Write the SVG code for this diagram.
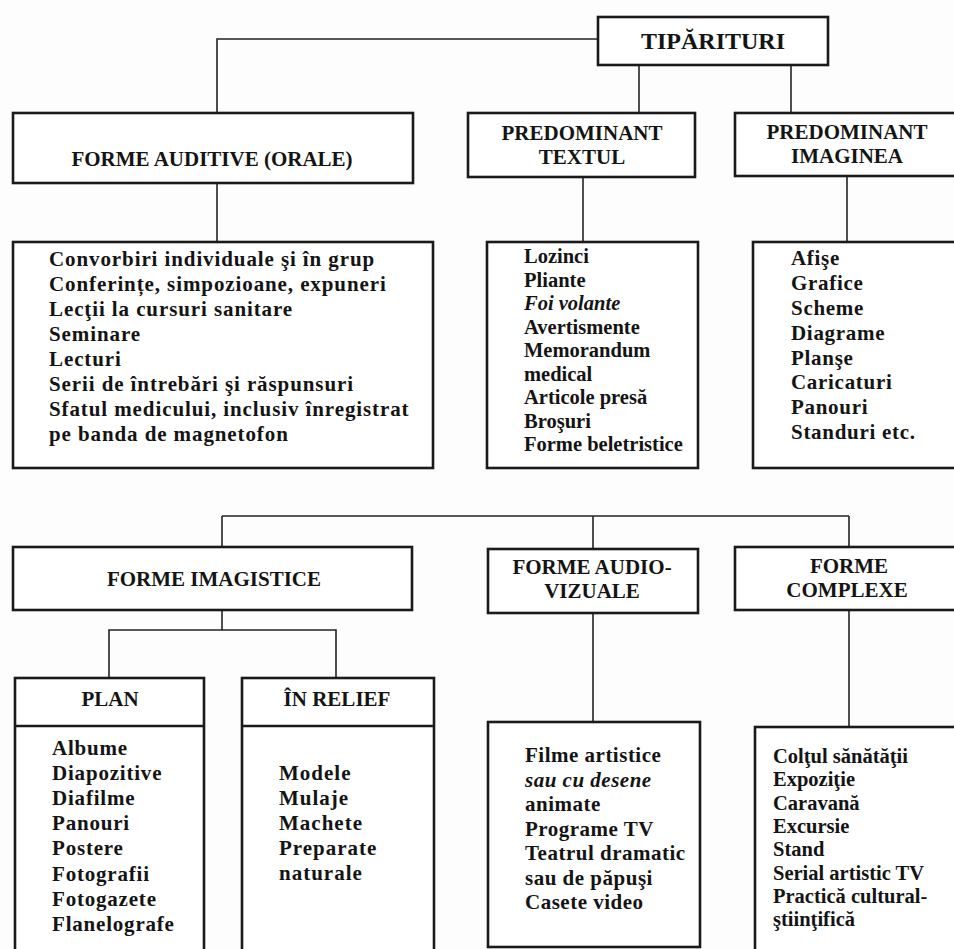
<svg xmlns="http://www.w3.org/2000/svg" width="954" height="949" viewBox="0 0 954 949">
<style>
  .bg{fill:#fdfdfd}
  .box{fill:#ffffff;stroke:#1a1a1a;stroke-width:2.6}
  .div{stroke:#1a1a1a;stroke-width:2.4;fill:none}
  .con{stroke:#222;stroke-width:1.6;fill:none}
  text{font-family:"Liberation Serif","Times New Roman",serif;font-weight:bold;fill:#141414}
  .hd{font-size:21px;text-anchor:middle}
  .top{font-size:24px;text-anchor:middle}
  .it{font-size:21px}
  .i{font-style:italic}
</style>
<rect class="bg" x="0" y="0" width="954" height="949"/>

<g id="connectors">
  <polyline class="con" points="598,39 217,39 217,113"/>
  <line class="con" x1="639" y1="65" x2="639" y2="113"/>
  <line class="con" x1="791" y1="65" x2="791" y2="113"/>
  <line class="con" x1="217" y1="183" x2="217" y2="242"/>
  <line class="con" x1="583" y1="177" x2="583" y2="242"/>
  <line class="con" x1="847" y1="176" x2="847" y2="242"/>
  <line class="con" x1="222" y1="516" x2="849" y2="516"/>
  <line class="con" x1="222" y1="516" x2="222" y2="547"/>
  <line class="con" x1="593" y1="516" x2="593" y2="549"/>
  <line class="con" x1="849" y1="516" x2="849" y2="547"/>
  <line class="con" x1="222" y1="610" x2="222" y2="630"/>
  <polyline class="con" points="109,678 109,630 336,630 336,678"/>
  <line class="con" x1="593" y1="613" x2="593" y2="722"/>
  <line class="con" x1="849" y1="610" x2="849" y2="727"/>
</g>

<g id="tipărituri">
  <rect class="box" x="598" y="17" width="230" height="48"/>
  <text class="top" x="713" y="49">TIPĂRITURI</text>
</g>

<g id="forme-auditive">
  <rect class="box" x="13" y="113" width="400" height="70"/>
  <text class="hd" x="212" y="166">FORME AUDITIVE (ORALE)</text>
</g>

<g id="predominant-textul">
  <rect class="box" x="468" y="113" width="227" height="64"/>
  <text class="hd" x="582" y="140">PREDOMINANT</text>
  <text class="hd" x="582" y="164">TEXTUL</text>
</g>

<g id="predominant-imaginea">
  <rect class="box" x="735" y="113" width="226" height="63"/>
  <text class="hd" x="847" y="139">PREDOMINANT</text>
  <text class="hd" x="847" y="163">IMAGINEA</text>
</g>

<g id="lista-auditive">
  <rect class="box" x="13" y="242" width="420" height="226"/>
  <g class="it" style="letter-spacing:0.9px">
    <text x="49" y="266">Convorbiri individuale şi în grup</text>
    <text x="49" y="291">Conferințe, simpozioane, expuneri</text>
    <text x="49" y="316">Lecţii la cursuri sanitare</text>
    <text x="49" y="341">Seminare</text>
    <text x="49" y="366">Lecturi</text>
    <text x="49" y="391">Serii de întrebări şi răspunsuri</text>
    <text x="49" y="416">Sfatul medicului, inclusiv înregistrat</text>
    <text x="49" y="441">pe banda de magnetofon</text>
  </g>
</g>

<g id="lista-textul">
  <rect class="box" x="487" y="242" width="211" height="226"/>
  <g class="it" style="font-size:20.5px">
    <text x="524" y="263">Lozinci</text>
    <text x="524" y="287">Pliante</text>
    <text x="524" y="310" class="i">Foi volante</text>
    <text x="524" y="334">Avertismente</text>
    <text x="524" y="357">Memorandum</text>
    <text x="524" y="381">medical</text>
    <text x="524" y="404">Articole presă</text>
    <text x="524" y="428">Broşuri</text>
    <text x="524" y="451">Forme beletristice</text>
  </g>
</g>

<g id="lista-imaginea">
  <rect class="box" x="753" y="242" width="208" height="226"/>
  <g class="it" style="letter-spacing:0.7px">
    <text x="791" y="265">Afişe</text>
    <text x="791" y="290">Grafice</text>
    <text x="791" y="315">Scheme</text>
    <text x="791" y="340">Diagrame</text>
    <text x="791" y="365">Planşe</text>
    <text x="791" y="389">Caricaturi</text>
    <text x="791" y="414">Panouri</text>
    <text x="791" y="439">Standuri etc.</text>
  </g>
</g>

<g id="forme-imagistice">
  <rect class="box" x="13" y="547" width="399" height="63"/>
  <text class="hd" x="214" y="586">FORME IMAGISTICE</text>
</g>

<g id="forme-audio-vizuale">
  <rect class="box" x="488" y="549" width="210" height="64"/>
  <text class="hd" x="592" y="574">FORME AUDIO-</text>
  <text class="hd" x="592" y="598">VIZUALE</text>
</g>

<g id="forme-complexe">
  <rect class="box" x="735" y="547" width="226" height="63"/>
  <text class="hd" x="849" y="573">FORME</text>
  <text class="hd" x="847" y="597">COMPLEXE</text>
</g>

<g id="plan">
  <rect class="box" x="15" y="678" width="189" height="290"/>
  <line class="div" x1="15" y1="726" x2="204" y2="726"/>
  <text class="hd" x="110" y="706">PLAN</text>
  <g class="it" style="letter-spacing:0.8px">
    <text x="52" y="755">Albume</text>
    <text x="52" y="780">Diapozitive</text>
    <text x="52" y="805">Diafilme</text>
    <text x="52" y="830">Panouri</text>
    <text x="52" y="855">Postere</text>
    <text x="52" y="881">Fotografii</text>
    <text x="52" y="906">Fotogazete</text>
    <text x="52" y="931">Flanelografe</text>
  </g>
</g>

<g id="in-relief">
  <rect class="box" x="242" y="678" width="192" height="290"/>
  <line class="div" x1="242" y1="726" x2="434" y2="726"/>
  <text class="hd" x="337" y="706">ÎN RELIEF</text>
  <g class="it" style="letter-spacing:1px">
    <text x="279" y="780">Modele</text>
    <text x="279" y="805">Mulaje</text>
    <text x="279" y="830">Machete</text>
    <text x="279" y="855">Preparate</text>
    <text x="279" y="880">naturale</text>
  </g>
</g>

<g id="lista-audio-vizuale">
  <rect class="box" x="488" y="722" width="212" height="225"/>
  <g class="it" style="letter-spacing:0.5px">
    <text x="525" y="762">Filme artistice</text>
    <text x="525" y="787" class="i">sau cu desene</text>
    <text x="525" y="811">animate</text>
    <text x="525" y="836">Programe TV</text>
    <text x="525" y="860">Teatrul dramatic</text>
    <text x="525" y="885">sau de păpuşi</text>
    <text x="525" y="909">Casete video</text>
  </g>
</g>

<g id="lista-complexe">
  <rect class="box" x="755" y="727" width="206" height="260"/>
  <g class="it" style="font-size:20.5px">
    <text x="773" y="763">Colţul sănătăţii</text>
    <text x="773" y="786">Expoziţie</text>
    <text x="773" y="810">Caravană</text>
    <text x="773" y="833">Excursie</text>
    <text x="773" y="856">Stand</text>
    <text x="773" y="880">Serial artistic TV</text>
    <text x="773" y="903">Practică cultural-</text>
    <text x="773" y="926">ştiinţifică</text>
  </g>
</g>
</svg>
